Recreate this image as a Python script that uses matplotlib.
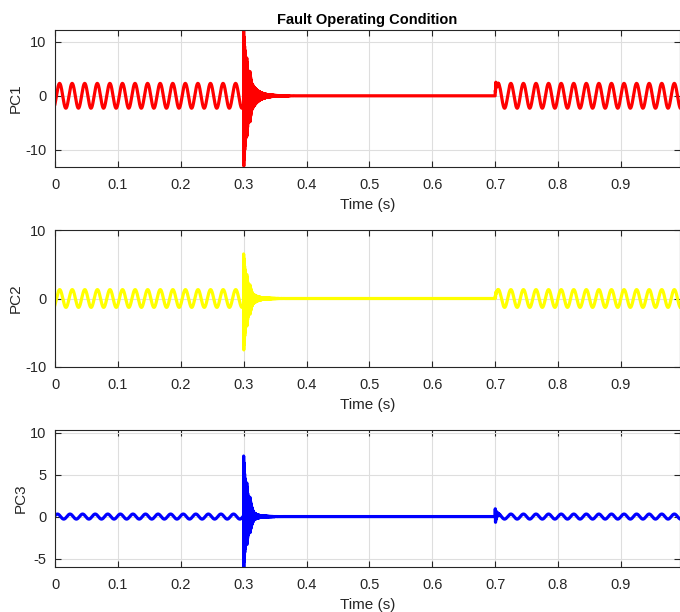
import numpy as np
import matplotlib
matplotlib.use('Agg')
import matplotlib.pyplot as plt

plt.rcParams['font.family'] = ['Liberation Sans', 'DejaVu Sans']
plt.rcParams['axes.unicode_minus'] = False

# Signal description
names = ['PC1', 'PC2', 'PC3']
colors = ['#ff0000', '#ffff00', '#0000ff']
freq = 50.0                      # Hz, 15 cycles between 0 and 0.3 s
amplitudes = [2.3, 1.3, 0.3]     # steady state amplitude
start_level = [-1.5, -0.9, 0.1]  # value at t = 0
fault_on = 0.3
fault_off = 0.7
peak_pos = [12.0, 6.5, 7.2]
peak_neg = [-13.0, -7.5, -6.0]
tail_frac = [0.6, 0.5, 0.45]     # share of the peak that decays slowly
tail_tau = [0.011, 0.009, 0.008]
burst_times = [0.305, 0.31]
burst_levels = [[7.0, 4.5], [3.5, 2.0], [4.0, 2.3]]
reclose_bump = [1.5, 0.3, 0.0]
reclose_ring = [0.5, 0.3, 1.0]

ylims = [(-13.2, 12.2), (-10, 10), (-6, 10.3)]
yticks = [[-10, 0, 10], [-10, 0, 10], [-5, 0, 5, 10]]
xticks = [0, 0.1, 0.2, 0.3, 0.4, 0.5, 0.6, 0.7, 0.8, 0.9]

t = np.arange(0, 1.0, 1e-5)
hf = 2000.0  # oscillation frequency of the transient

fig = plt.figure(figsize=(6.8, 6.12), dpi=100)
tops = [30, 230, 430]
for i in range(3):
    ax = fig.add_axes([55 / 680, 1 - (tops[i] + 137) / 612, 625 / 680, 137 / 612])

    phi = np.arcsin(start_level[i] / amplitudes[i])
    y = np.zeros_like(t)
    pre = t < fault_on
    y[pre] = amplitudes[i] * np.sin(2 * np.pi * freq * t[pre] + phi)

    mid = (t >= fault_on) & (t < fault_off)
    dt = t[mid] - fault_on
    osc = np.cos(2 * np.pi * hf * dt)
    env = (1 - tail_frac[i]) * np.exp(-dt / 0.003) + tail_frac[i] * np.exp(-dt / tail_tau[i])
    # first negative swing comes half a period later; rescale so it still hits the drawn minimum
    neg_scale = -peak_neg[i] / env[np.argmin(np.abs(dt - 0.5 / hf))]
    amp = np.where(osc > 0, peak_pos[i], neg_scale)
    for bt, bl in zip(burst_times, burst_levels[i]):
        env = np.maximum(env, (bl / peak_pos[i]) * np.exp(-np.clip(t[mid] - bt, 0, None) / 0.004) * (t[mid] >= bt))
    y[mid] = amp * env * osc

    post = t >= fault_off
    dp = t[post] - fault_off
    y[post] = amplitudes[i] * np.sin(2 * np.pi * freq * dp) \
        + reclose_bump[i] * np.exp(-((dp - 0.0012) / 0.0008) ** 2) \
        + reclose_ring[i] * np.exp(-dp / 0.002) * np.sin(2 * np.pi * 1200 * dp)

    ax.plot(t, y, color=colors[i], lw=2.3)
    ax.set_xlim(0, 0.994)
    ax.set_ylim(*ylims[i])
    ax.set_yticks(yticks[i])
    ax.set_xticks(xticks)
    ax.set_xticklabels(['0'] + ['%.1f' % v for v in xticks[1:]])
    ax.grid(True, color='#dedede', lw=0.8)
    ax.set_axisbelow(True)
    ax.tick_params(direction='in', top=True, right=True, labelsize=10.5, length=4, width=0.8,
                   colors='#262626')
    ax.tick_params(axis='x', pad=8)
    ax.tick_params(axis='y', pad=6)
    for s in ax.spines.values():
        s.set_color('#262626')
        s.set_linewidth(0.8)
    ax.set_ylabel(names[i], fontsize=11, color='#262626', labelpad=2)
    ax.set_xlabel('Time (s)', fontsize=11, color='#262626', labelpad=4)
    if i == 0:
        ax.set_title('Fault Operating Condition', fontsize=10.5, fontweight='bold', pad=4)

fig.savefig('out.png', dpi=100)
